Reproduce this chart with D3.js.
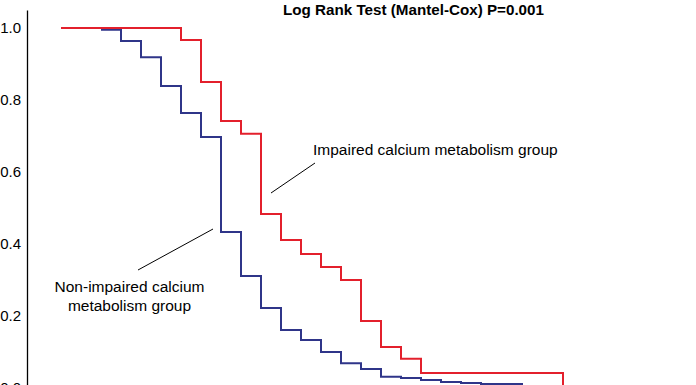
<!DOCTYPE html>
<html>
<head>
<meta charset="utf-8">
<script src="https://cdn.jsdelivr.net/npm/d3@7"></script>
<style>
  html, body { margin: 0; padding: 0; background: #fff; }
  svg { display: block; font-family: "Liberation Sans", Arial, Helvetica, sans-serif; }
</style>
</head>
<body>
<div id="chart"></div>
<script>
// survival steps, time in follow-up units
var impairedTimes  = [2, 8, 9, 10, 11, 12, 13, 14, 15, 16, 17, 18, 19, 20, 27.1];
var impairedValues = [1.0, 0.967, 0.85, 0.742, 0.706, 0.483, 0.411, 0.372, 0.336, 0.3, 0.186, 0.114, 0.081, 0.042, 0];

var nonImpairedTimes  = [4, 5, 6, 7, 8, 9, 10, 11, 12, 13, 14, 15, 16, 17, 18, 19, 20, 21, 22, 23, 25.1];
var nonImpairedValues = [0.995, 0.964, 0.919, 0.839, 0.764, 0.697, 0.433, 0.311, 0.222, 0.161, 0.133, 0.1, 0.069, 0.053, 0.031, 0.028, 0.022, 0.017, 0.014, 0.011, 0.011];

var yTicks = [0, 0.2, 0.4, 0.6, 0.8, 1.0];
var titleText = 'Log Rank Test (Mantel-Cox) P=0.001';

var W = 696, H = 385;

var svg = d3.select('#chart').append('svg')
  .attr('width', W).attr('height', H);

var x = d3.scaleLinear().domain([0, 30]).range([21, 621]);
var y = d3.scaleLinear().domain([0, 1.05]).range([388, 10]);

// y axis
svg.append('g')
  .attr('transform', 'translate(27,0)')
  .call(d3.axisLeft(y).tickValues(yTicks).tickSize(0).tickSizeOuter(0).tickPadding(6)
    .tickFormat(d3.format('.1f')))
  .call(function(g) {
    g.select('.domain').attr('stroke', '#000').attr('stroke-width', 1.3);
    g.selectAll('text').attr('fill', '#000').attr('font-size', 15)
      .attr('font-family', '"Liberation Sans", Arial, sans-serif');
  });

var line = d3.line()
  .x(function(d) { return x(d[0]); })
  .y(function(d) { return y(d[1]); })
  .curve(d3.curveStepAfter);

function pairs(ts, vs) {
  return ts.map(function(t, i) { return [t, vs[i]]; });
}

svg.append('path')
  .datum(pairs(nonImpairedTimes, nonImpairedValues))
  .attr('d', line)
  .attr('fill', 'none')
  .attr('stroke', '#2f3589')
  .attr('stroke-width', 2);

svg.append('path')
  .datum(pairs(impairedTimes, impairedValues))
  .attr('d', line)
  .attr('fill', 'none')
  .attr('stroke', '#e3202c')
  .attr('stroke-width', 2);

// title
svg.append('text')
  .attr('x', 413.5).attr('y', 15)
  .attr('text-anchor', 'middle')
  .attr('font-size', 15.2)
  .attr('font-weight', 'bold')
  .attr('fill', '#000')
  .text(titleText);

// annotations
svg.append('line')
  .attr('x1', 315).attr('y1', 163).attr('x2', 271).attr('y2', 193)
  .attr('stroke', '#000').attr('stroke-width', 1);
svg.append('text')
  .attr('x', 313).attr('y', 155)
  .attr('font-size', 15.5).attr('fill', '#000')
  .text('Impaired calcium metabolism group');

svg.append('line')
  .attr('x1', 213).attr('y1', 229).attr('x2', 138).attr('y2', 270)
  .attr('stroke', '#000').attr('stroke-width', 1);
var t2 = svg.append('text')
  .attr('text-anchor', 'middle')
  .attr('font-size', 15.5).attr('fill', '#000');
t2.append('tspan').attr('x', 129.5).attr('y', 292).text('Non-impaired calcium');
t2.append('tspan').attr('x', 129.5).attr('y', 311).text('metabolism group');
</script>
</body>
</html>
